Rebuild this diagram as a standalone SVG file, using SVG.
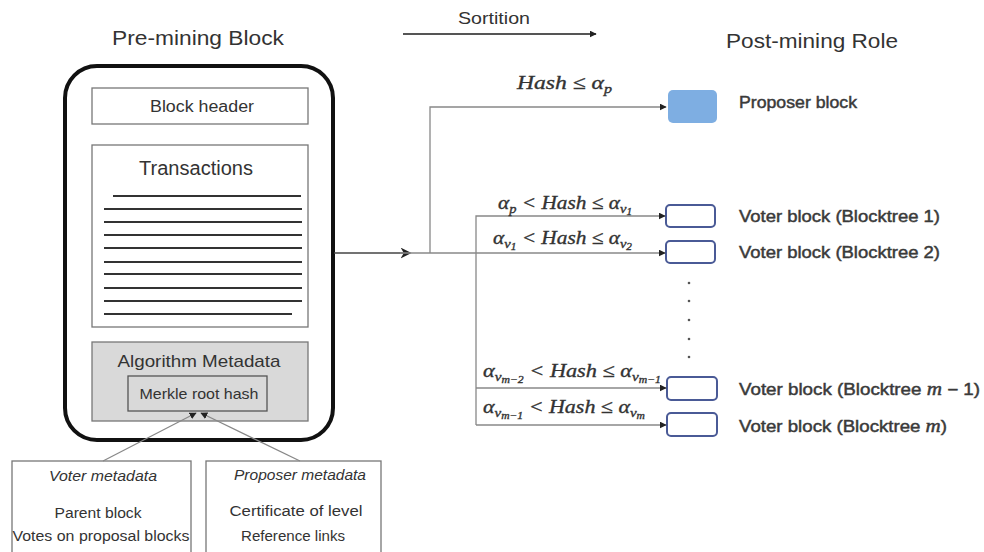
<svg xmlns="http://www.w3.org/2000/svg" width="984" height="552" viewBox="0 0 984 552">
  <defs>
    <marker id="arr" viewBox="0 0 10 10" refX="9" refY="5" markerWidth="7" markerHeight="7" markerUnits="userSpaceOnUse" orient="auto">
      <path d="M0,0 L10,5 L0,10 z" fill="#222"/>
    </marker>
    <marker id="arrBig" viewBox="0 0 10 10" refX="5" refY="5" markerWidth="11" markerHeight="11" markerUnits="userSpaceOnUse" orient="auto">
      <path d="M0,0 L10,5 L0,10 L3,5 z" fill="#222"/>
    </marker>
    <style>
      .t { font-family: "Liberation Sans", "DejaVu Sans", sans-serif; fill: #333; }
      .title { font-size: 20px; }
      .lbl { font-size: 16px; fill: #3a3a3a; stroke: #3a3a3a; stroke-width: 0.45; }
      .mi { font-family: "Liberation Serif", "DejaVu Serif", serif; font-style: italic; font-size: 18px; }
      .math { font-family: "Liberation Serif", "DejaVu Serif", serif; font-style: italic; fill: #333; stroke: #333; stroke-width: 0.35; font-size: 19px; }
      .sub { font-size: 13px; }
      .sub2 { font-size: 10px; }
      .box { fill: #fff; stroke: #777; stroke-width: 1.3; }
      .txline { stroke: #333; stroke-width: 2; }
      .conn { fill: none; stroke: #888; stroke-width: 1.3; }
      .voter { fill: #fff; stroke: #4a5a96; stroke-width: 2; }
      .dot { fill: #555; }
    </style>
  </defs>
  <rect width="984" height="552" fill="#fff"/>

  <!-- Headings -->
  <text class="t title" x="198" y="45" text-anchor="middle" textLength="172" lengthAdjust="spacingAndGlyphs">Pre-mining Block</text>
  <text class="t" x="494" y="24" font-size="17" text-anchor="middle" textLength="72" lengthAdjust="spacingAndGlyphs">Sortition</text>
  <line x1="403" y1="34" x2="596" y2="34" stroke="#555" stroke-width="2" marker-end="url(#arr)"/>
  <text class="t title" x="812" y="48" text-anchor="middle" textLength="172" lengthAdjust="spacingAndGlyphs">Post-mining Role</text>

  <!-- Pre-mining block -->
  <g id="pre-mining-block">
    <rect x="65" y="66" width="268" height="374" rx="32" fill="#fff" stroke="#111" stroke-width="4"/>
    <g id="block-header">
      <rect class="box" x="92" y="88" width="216" height="36"/>
      <text class="t" x="202" y="112" font-size="16" text-anchor="middle" textLength="104" lengthAdjust="spacingAndGlyphs">Block header</text>
    </g>
    <g id="transactions">
      <rect class="box" x="92" y="145" width="216" height="182"/>
      <text class="t" x="196" y="175" font-size="20" text-anchor="middle" textLength="114" lengthAdjust="spacingAndGlyphs">Transactions</text>
      <line class="txline" x1="113" y1="196" x2="301" y2="196"/>
      <line class="txline" x1="104" y1="209" x2="302" y2="209"/>
      <line class="txline" x1="104" y1="222" x2="302" y2="222"/>
      <line class="txline" x1="104" y1="235" x2="302" y2="235"/>
      <line class="txline" x1="104" y1="248" x2="302" y2="248"/>
      <line class="txline" x1="104" y1="262" x2="302" y2="262"/>
      <line class="txline" x1="104" y1="274" x2="302" y2="274"/>
      <line class="txline" x1="104" y1="288" x2="302" y2="288"/>
      <line class="txline" x1="104" y1="301" x2="302" y2="301"/>
      <line class="txline" x1="104" y1="314" x2="292" y2="314"/>
    </g>
    <g id="algorithm-metadata">
      <rect x="92" y="342" width="216" height="79" fill="#d9d9d9" stroke="#777" stroke-width="1.3"/>
      <text class="t" x="199" y="367" font-size="17" text-anchor="middle" textLength="163" lengthAdjust="spacingAndGlyphs">Algorithm Metadata</text>
      <rect x="128" y="376" width="139" height="35" fill="#d9d9d9" stroke="#555" stroke-width="1.3"/>
      <text class="t" x="199" y="399" font-size="15" text-anchor="middle" textLength="119" lengthAdjust="spacingAndGlyphs">Merkle root hash</text>
    </g>
  </g>

  <!-- Metadata sources -->
  <g id="voter-metadata">
    <rect class="box" x="12" y="461" width="179" height="92"/>
    <text class="t" x="103" y="481" font-size="14" font-style="italic" text-anchor="middle" textLength="108" lengthAdjust="spacingAndGlyphs">Voter metadata</text>
    <text class="t" x="98" y="518" font-size="14" text-anchor="middle" textLength="87" lengthAdjust="spacingAndGlyphs">Parent block</text>
    <text class="t" x="101" y="541" font-size="14" text-anchor="middle" textLength="177" lengthAdjust="spacingAndGlyphs">Votes on proposal blocks</text>
  </g>
  <g id="proposer-metadata">
    <rect class="box" x="206" y="461" width="175" height="92"/>
    <text class="t" x="300" y="480" font-size="14" font-style="italic" text-anchor="middle" textLength="132" lengthAdjust="spacingAndGlyphs">Proposer metadata</text>
    <text class="t" x="296" y="516" font-size="14" text-anchor="middle" textLength="133" lengthAdjust="spacingAndGlyphs">Certificate of level</text>
    <text class="t" x="293" y="541" font-size="14" text-anchor="middle" textLength="104" lengthAdjust="spacingAndGlyphs">Reference links</text>
  </g>

  <!-- Post-mining roles -->
  <g id="proposer-block">
    <rect x="668" y="90" width="49" height="33" rx="5" fill="#7eaee2"/>
    <text class="t lbl" x="739" y="108" textLength="118" lengthAdjust="spacingAndGlyphs">Proposer block</text>
  </g>
  <g id="voter-block-1">
    <rect class="voter" x="666" y="205" width="49" height="22" rx="4"/>
    <text class="t lbl" x="739" y="222" textLength="201" lengthAdjust="spacingAndGlyphs">Voter block (Blocktree 1)</text>
  </g>
  <g id="voter-block-2">
    <rect class="voter" x="666" y="241" width="49" height="22" rx="4"/>
    <text class="t lbl" x="739" y="258" textLength="201" lengthAdjust="spacingAndGlyphs">Voter block (Blocktree 2)</text>
  </g>
  <g id="voter-block-m-1">
    <rect class="voter" x="667" y="377" width="50" height="23" rx="4"/>
    <text class="t lbl" x="739" y="395" textLength="241" lengthAdjust="spacingAndGlyphs">Voter block (Blocktree <tspan class="mi">m</tspan> − 1)</text>
  </g>
  <g id="voter-block-m">
    <rect class="voter" x="667" y="413" width="50" height="23" rx="4"/>
    <text class="t lbl" x="739" y="432" textLength="208" lengthAdjust="spacingAndGlyphs">Voter block (Blocktree <tspan class="mi">m</tspan>)</text>
  </g>

  <!-- Ellipsis between voter blocks -->
  <g id="ellipsis">
    <circle class="dot" cx="689" cy="283" r="1.3"/>
    <circle class="dot" cx="689" cy="301" r="1.3"/>
    <circle class="dot" cx="689" cy="320" r="1.3"/>
    <circle class="dot" cx="689" cy="339" r="1.3"/>
    <circle class="dot" cx="689" cy="357" r="1.3"/>
  </g>

  <!-- Connectors -->
  <g id="connectors">
    <line x1="103" y1="461" x2="196" y2="413" class="conn" marker-end="url(#arr)"/>
    <line x1="300" y1="461" x2="201" y2="413" class="conn" marker-end="url(#arr)"/>
    <line x1="334" y1="253" x2="406" y2="253" stroke="#444" stroke-width="1.5" marker-end="url(#arrBig)"/>
    <line x1="400" y1="253" x2="665" y2="253" class="conn" marker-end="url(#arr)"/>
    <path d="M430,253 V107 H666" class="conn" marker-end="url(#arr)"/>
    <path d="M476,425 V216 H665" class="conn" marker-end="url(#arr)"/>
    <line x1="476" y1="388" x2="666" y2="388" class="conn" marker-end="url(#arr)"/>
    <line x1="476" y1="425" x2="666" y2="425" class="conn" marker-end="url(#arr)"/>
  </g>

  <!-- Sortition thresholds -->
  <g id="thresholds">
    <text class="math" x="517" y="89" textLength="95" lengthAdjust="spacingAndGlyphs">Hash ≤ α<tspan class="sub" dy="4">p</tspan></text>
    <text class="math" x="498" y="209" textLength="134" lengthAdjust="spacingAndGlyphs">α<tspan class="sub" dy="4">p</tspan><tspan dy="-4"> &lt; Hash ≤ α</tspan><tspan class="sub" dy="4">v</tspan><tspan class="sub2" dy="2">1</tspan></text>
    <text class="math" x="493" y="244" textLength="139" lengthAdjust="spacingAndGlyphs">α<tspan class="sub" dy="4">v</tspan><tspan class="sub2" dy="2">1</tspan><tspan dy="-6"> &lt; Hash ≤ α</tspan><tspan class="sub" dy="4">v</tspan><tspan class="sub2" dy="2">2</tspan></text>
    <text class="math" x="483" y="377" textLength="178" lengthAdjust="spacingAndGlyphs">α<tspan class="sub" dy="4">v</tspan><tspan class="sub2" dy="2">m−2</tspan><tspan dy="-6"> &lt; Hash ≤ α</tspan><tspan class="sub" dy="4">v</tspan><tspan class="sub2" dy="2">m−1</tspan></text>
    <text class="math" x="483" y="413" textLength="162" lengthAdjust="spacingAndGlyphs">α<tspan class="sub" dy="4">v</tspan><tspan class="sub2" dy="2">m−1</tspan><tspan dy="-6"> &lt; Hash ≤ α</tspan><tspan class="sub" dy="4">v</tspan><tspan class="sub2" dy="2">m</tspan></text>
  </g>
</svg>
